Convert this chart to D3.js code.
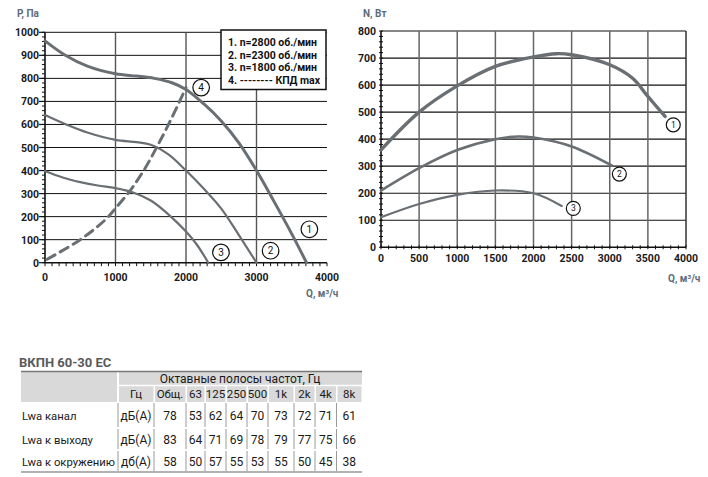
<!DOCTYPE html>
<html>
<head>
<meta charset="utf-8">
<title>ВКПН 60-30 ЕС</title>
<script src="https://d3js.org/d3.v7.min.js"></script>
<style>
    body { margin: 0; background: #fff; }
    svg { display: block; }
    .tick-label { font: bold 10.5px Roboto, sans-serif; fill: #1a1a1a; }
    .axis-title { font: bold 10px Roboto, sans-serif; fill: #5d6b7b; }
    .legend text { font: bold 10.5px Roboto, sans-serif; fill: #111; }
    .curve { fill: none; stroke: #6a6f74; stroke-linecap: round; }
    .marker circle { fill: #fff; stroke: #111; stroke-width: 1.2px; }
    .marker text { font: 10px Roboto, sans-serif; fill: #111; text-anchor: middle; }
    .tbl text { font: 12px Roboto, sans-serif; fill: #1a1a1a; }
</style>
</head>
<body>
<svg width="708" height="477"></svg>
<script>
    // --- P(Q) pressure curves ---
    var q2800 = [0, 300, 600, 1000, 1300, 1550, 1800, 2000, 2250, 2500, 2750, 3000, 3250, 3500, 3710];
    var p2800 = [963, 898, 853, 820, 810, 800, 781, 752, 690, 615, 520, 400, 265, 125, 0];
    var q2300 = [0, 300, 600, 1000, 1300, 1500, 1750, 2000, 2250, 2500, 2750, 3000];
    var p2300 = [641, 600, 565, 533, 523, 512, 470, 400, 322, 235, 120, 0];
    var q1800 = [0, 250, 500, 750, 1000, 1250, 1500, 1750, 2000, 2150, 2316];
    var p1800 = [398, 370, 350, 335, 324, 305, 270, 210, 135, 80, 0];
    var qEff = [30, 500, 850, 1000, 1200, 1400, 1600, 1800, 2000];
    var pEff = [15, 100, 185, 236, 310, 400, 510, 630, 760];

    // --- N(Q) power curves ---
    var qN1 = [0, 500, 1000, 1500, 2000, 2300, 2500, 3000, 3300, 3500, 3725];
    var nN1 = [360, 500, 597, 669, 704, 716, 712, 675, 625, 558, 484];
    var qN2 = [0, 500, 1000, 1500, 1800, 2000, 2500, 3030];
    var nN2 = [210, 293, 360, 400, 410, 406, 373, 302];
    var qN3 = [0, 500, 1000, 1500, 2000, 2370];
    var nN3 = [111, 160, 194, 210, 200, 153];

    var legendLines = ["1. n=2800 об./мин", "2. n=2300 об./мин", "3. n=1800 об./мин", "4. -------- КПД max"];

    // --- noise table ---
    var tableTitle = "ВКПН 60-30 ЕС";
    var bandHeader = "Октавные полосы частот, Гц";
    var bands = ["Гц", "Общ.", "63", "125", "250", "500", "1k", "2k", "4k", "8k"];
    var rowNames = ["Lwa канал", "Lwa к выходу", "Lwa к окружению"];
    var units = ["дБ(A)", "дБ(A)", "дб(A)"];
    var lwaDuct = [78, 53, 62, 64, 70, 73, 72, 71, 61];
    var lwaOut = [83, 64, 71, 69, 78, 79, 77, 75, 66];
    var lwaEnv = [58, 50, 57, 55, 53, 55, 50, 45, 38];

    var svg = d3.select("svg");

    function zip(xs, ys) {
        return xs.map(function (x, i) { return [x, ys[i]]; });
    }

    // ================= left chart =================
    var xL = d3.scaleLinear().domain([0, 4000]).range([45, 327]);
    var yL = d3.scaleLinear().domain([0, 1000]).range([262.7, 32.3]);
    var gL = svg.append("g");

    // horizontal grid
    gL.selectAll(".hg").data(d3.range(100, 1001, 100)).enter().append("line")
        .attr("x1", xL(0)).attr("x2", xL(4000))
        .attr("y1", function (d) { return yL(d); }).attr("y2", function (d) { return yL(d); })
        .attr("stroke", "#111").attr("stroke-width", 1);
    // vertical grid
    gL.selectAll(".vg").data([1000, 2000, 3000]).enter().append("line")
        .attr("x1", function (d) { return xL(d); }).attr("x2", function (d) { return xL(d); })
        .attr("y1", yL(0)).attr("y2", yL(1000))
        .attr("stroke", "#555").attr("stroke-width", 1.4);

    // minor ticks
    gL.selectAll(".mx").data(d3.range(0, 4001, 100)).enter().append("line")
        .attr("x1", function (d) { return xL(d); }).attr("x2", function (d) { return xL(d); })
        .attr("y1", yL(0)).attr("y2", yL(0) + 3.5)
        .attr("stroke", "#111").attr("stroke-width", 1);
    gL.selectAll(".my").data(d3.range(0, 1001, 20)).enter().append("line")
        .attr("x1", xL(0) - 3).attr("x2", xL(0))
        .attr("y1", function (d) { return yL(d); }).attr("y2", function (d) { return yL(d); })
        .attr("stroke", "#111").attr("stroke-width", 1);
    gL.selectAll(".My").data(d3.range(0, 1001, 100)).enter().append("line")
        .attr("x1", xL(0) - 6).attr("x2", xL(0))
        .attr("y1", function (d) { return yL(d); }).attr("y2", function (d) { return yL(d); })
        .attr("stroke", "#111").attr("stroke-width", 1.2);

    // axis lines
    gL.append("line").attr("x1", xL(0)).attr("x2", xL(0)).attr("y1", yL(0)).attr("y2", yL(1000))
        .attr("stroke", "#111").attr("stroke-width", 1.6);
    gL.append("line").attr("x1", xL(0)).attr("x2", xL(4000)).attr("y1", yL(0)).attr("y2", yL(0))
        .attr("stroke", "#111").attr("stroke-width", 1.6);

    gL.selectAll(".yl").data(d3.range(0, 1001, 100)).enter().append("text")
        .attr("class", "tick-label").attr("text-anchor", "end")
        .attr("x", xL(0) - 6).attr("y", function (d) { return yL(d) + 4; })
        .text(function (d) { return d; });
    gL.selectAll(".xl").data(d3.range(0, 4001, 1000)).enter().append("text")
        .attr("class", "tick-label").attr("text-anchor", "middle")
        .attr("x", function (d) { return xL(d); }).attr("y", 281)
        .text(function (d) { return d; });

    gL.append("text").attr("class", "axis-title").attr("x", 17).attr("y", 17).text("P, Па");
    gL.append("text").attr("class", "axis-title").attr("x", 306).attr("y", 297).text("Q, м³/ч");

    var lineL = d3.line()
        .x(function (d) { return xL(d[0]); })
        .y(function (d) { return yL(d[1]); })
        .curve(d3.curveCatmullRom.alpha(0.5));

    gL.append("path").attr("class", "curve").attr("d", lineL(zip(q2800, p2800))).attr("stroke-width", 3);
    gL.append("path").attr("class", "curve").attr("d", lineL(zip(q2300, p2300))).attr("stroke-width", 2.2);
    gL.append("path").attr("class", "curve").attr("d", lineL(zip(q1800, p1800))).attr("stroke-width", 2.2);
    gL.append("path").attr("class", "curve").attr("d", lineL(zip(qEff, pEff)))
        .attr("stroke-width", 3).attr("stroke-dasharray", "9,6").attr("stroke-linecap", "butt");

    var markL = [[3750, 145, "1"], [3200, 52, "2"], [2496, 45, "3"], [2215, 760, "4"]];
    var mL = gL.selectAll(".marker").data(markL).enter().append("g").attr("class", "marker")
        .attr("transform", function (d) { return "translate(" + xL(d[0]) + "," + yL(d[1]) + ")"; });
    mL.append("circle").attr("r", 8.3);
    mL.append("text").attr("dy", "0.36em").text(function (d) { return d[2]; });

    // legend box
    var leg = gL.append("g").attr("class", "legend");
    leg.append("rect").attr("x", 221).attr("y", 30).attr("width", 105).attr("height", 59.5)
        .attr("fill", "#fff").attr("stroke", "#111").attr("stroke-width", 1.5);
    leg.selectAll("text").data(legendLines).enter().append("text")
        .attr("x", 228).attr("y", function (d, i) { return 46 + i * 12.5; })
        .text(function (d) { return d; });

    // ================= right chart =================
    var xR = d3.scaleLinear().domain([0, 4000]).range([381, 686]);
    var yR = d3.scaleLinear().domain([0, 800]).range([247.3, 31]);
    var gR = svg.append("g");

    gR.selectAll(".hg").data(d3.range(100, 801, 100)).enter().append("line")
        .attr("x1", xR(0)).attr("x2", xR(4000))
        .attr("y1", function (d) { return yR(d); }).attr("y2", function (d) { return yR(d); })
        .attr("stroke", "#111").attr("stroke-width", 1.2);
    gR.selectAll(".vg").data(d3.range(500, 4001, 500)).enter().append("line")
        .attr("x1", function (d) { return xR(d); }).attr("x2", function (d) { return xR(d); })
        .attr("y1", yR(0)).attr("y2", yR(800))
        .attr("stroke", function (d) { return d === 4000 ? "#333" : "#666"; }).attr("stroke-width", 1.5);

    gR.selectAll(".mx").data(d3.range(0, 4001, 100)).enter().append("line")
        .attr("x1", function (d) { return xR(d); }).attr("x2", function (d) { return xR(d); })
        .attr("y1", yR(0) - 2).attr("y2", yR(0) + 2)
        .attr("stroke", "#111").attr("stroke-width", 1);
    gR.selectAll(".my").data(d3.range(0, 801, 20)).enter().append("line")
        .attr("x1", xR(0) - 2).attr("x2", xR(0) + 2)
        .attr("y1", function (d) { return yR(d); }).attr("y2", function (d) { return yR(d); })
        .attr("stroke", "#111").attr("stroke-width", 1);

    gR.append("line").attr("x1", xR(0)).attr("x2", xR(0)).attr("y1", yR(0)).attr("y2", yR(800))
        .attr("stroke", "#111").attr("stroke-width", 1.6);
    gR.append("line").attr("x1", xR(0)).attr("x2", xR(4000)).attr("y1", yR(0)).attr("y2", yR(0))
        .attr("stroke", "#111").attr("stroke-width", 1.6);

    gR.selectAll(".yl").data(d3.range(0, 801, 100)).enter().append("text")
        .attr("class", "tick-label").attr("text-anchor", "end")
        .attr("x", xR(0) - 5).attr("y", function (d) { return yR(d) + 4; })
        .text(function (d) { return d; });
    gR.selectAll(".xl").data(d3.range(0, 4001, 500)).enter().append("text")
        .attr("class", "tick-label").attr("text-anchor", "middle")
        .attr("x", function (d) { return xR(d); }).attr("y", 262)
        .text(function (d) { return d; });

    gR.append("text").attr("class", "axis-title").attr("x", 363).attr("y", 17).text("N, Вт");
    gR.append("text").attr("class", "axis-title").attr("x", 668).attr("y", 282).text("Q, м³/ч");

    var lineR = d3.line()
        .x(function (d) { return xR(d[0]); })
        .y(function (d) { return yR(d[1]); })
        .curve(d3.curveCatmullRom.alpha(0.5));

    gR.append("path").attr("class", "curve").attr("d", lineR(zip(qN1, nN1))).attr("stroke-width", 3.4);
    gR.append("path").attr("class", "curve").attr("d", lineR(zip(qN2, nN2))).attr("stroke-width", 2.6);
    gR.append("path").attr("class", "curve").attr("d", lineR(zip(qN3, nN3))).attr("stroke-width", 2.2);

    var markR = [[3833, 453, "1"], [3126, 271, "2"], [2522, 144, "3"]];
    var mR = gR.selectAll(".marker").data(markR).enter().append("g").attr("class", "marker")
        .attr("transform", function (d) { return "translate(" + xR(d[0]) + "," + yR(d[1]) + ")"; });
    mR.append("circle").attr("r", 7);
    mR.append("text").attr("dy", "0.36em").style("font-size", "8.5px").text(function (d) { return d[2]; });

    // ================= table =================
    var tbl = svg.append("g").attr("class", "tbl");
    var colEdges = [21, 118, 154, 186, 205, 226, 247, 268, 294, 315, 336.5, 362];
    var rowEdges = [372, 385.5, 402, 428, 450, 472];

    tbl.append("text").attr("x", 19).attr("y", 367)
        .style("font-weight", "bold").style("font-size", "13px").style("fill", "#5a5a5a")
        .text(tableTitle);

    // header background cells with white gaps
    tbl.append("rect").attr("x", colEdges[0]).attr("y", rowEdges[0])
        .attr("width", colEdges[1] - colEdges[0] - 1).attr("height", rowEdges[2] - rowEdges[0])
        .attr("fill", "#d9d9d9");
    tbl.append("rect").attr("x", colEdges[1] + 1).attr("y", rowEdges[0])
        .attr("width", colEdges[11] - colEdges[1] - 1).attr("height", rowEdges[1] - rowEdges[0] - 0.75)
        .attr("fill", "#d9d9d9");
    tbl.selectAll(".hc").data(bands).enter().append("rect")
        .attr("x", function (d, i) { return colEdges[i + 1] + 1; })
        .attr("y", rowEdges[1] + 0.75)
        .attr("width", function (d, i) { return colEdges[i + 2] - colEdges[i + 1] - 1.5; })
        .attr("height", rowEdges[2] - rowEdges[1] - 0.75)
        .attr("fill", "#d9d9d9");

    // data row vertical separators
    d3.range(3).forEach(function (r) {
        tbl.selectAll(".vs" + r).data(colEdges.slice(1, 11)).enter().append("line")
            .attr("x1", function (d) { return d; }).attr("x2", function (d) { return d; })
            .attr("y1", rowEdges[r + 2] + 1).attr("y2", rowEdges[r + 3] - 1)
            .attr("stroke", "#9a9a9a").attr("stroke-width", 1);
    });
    // top and bottom rules
    tbl.append("line").attr("x1", colEdges[0]).attr("x2", colEdges[11])
        .attr("y1", rowEdges[0] - 0.5).attr("y2", rowEdges[0] - 0.5)
        .attr("stroke", "#777").attr("stroke-width", 1.5);
    tbl.append("line").attr("x1", colEdges[0]).attr("x2", colEdges[11])
        .attr("y1", rowEdges[5]).attr("y2", rowEdges[5])
        .attr("stroke", "#999").attr("stroke-width", 1.5);

    tbl.append("text").attr("text-anchor", "middle")
        .attr("x", (colEdges[1] + colEdges[11]) / 2).attr("y", rowEdges[1] - 2.5)
        .text(bandHeader);
    tbl.selectAll(".bh").data(bands).enter().append("text").attr("text-anchor", "middle")
        .attr("x", function (d, i) { return (colEdges[i + 1] + colEdges[i + 2]) / 2; })
        .attr("y", rowEdges[2] - 4)
        .style("font-size", "11.5px")
        .text(function (d) { return d; });

    var rows = [lwaDuct, lwaOut, lwaEnv];
    rows.forEach(function (vals, r) {
        var yc = (rowEdges[r + 2] + rowEdges[r + 3]) / 2 + 4.5;
        tbl.append("text").attr("x", 22).attr("y", yc)
            .style("font-size", "11.3px").text(rowNames[r]);
        tbl.append("text").attr("text-anchor", "middle")
            .attr("x", (colEdges[1] + colEdges[2]) / 2).attr("y", yc).text(units[r]);
        tbl.selectAll(".v" + r).data(vals).enter().append("text").attr("text-anchor", "middle")
            .attr("x", function (d, i) { return (colEdges[i + 2] + colEdges[i + 3]) / 2; })
            .attr("y", yc)
            .text(function (d) { return d; });
    });
</script>
</body>
</html>
